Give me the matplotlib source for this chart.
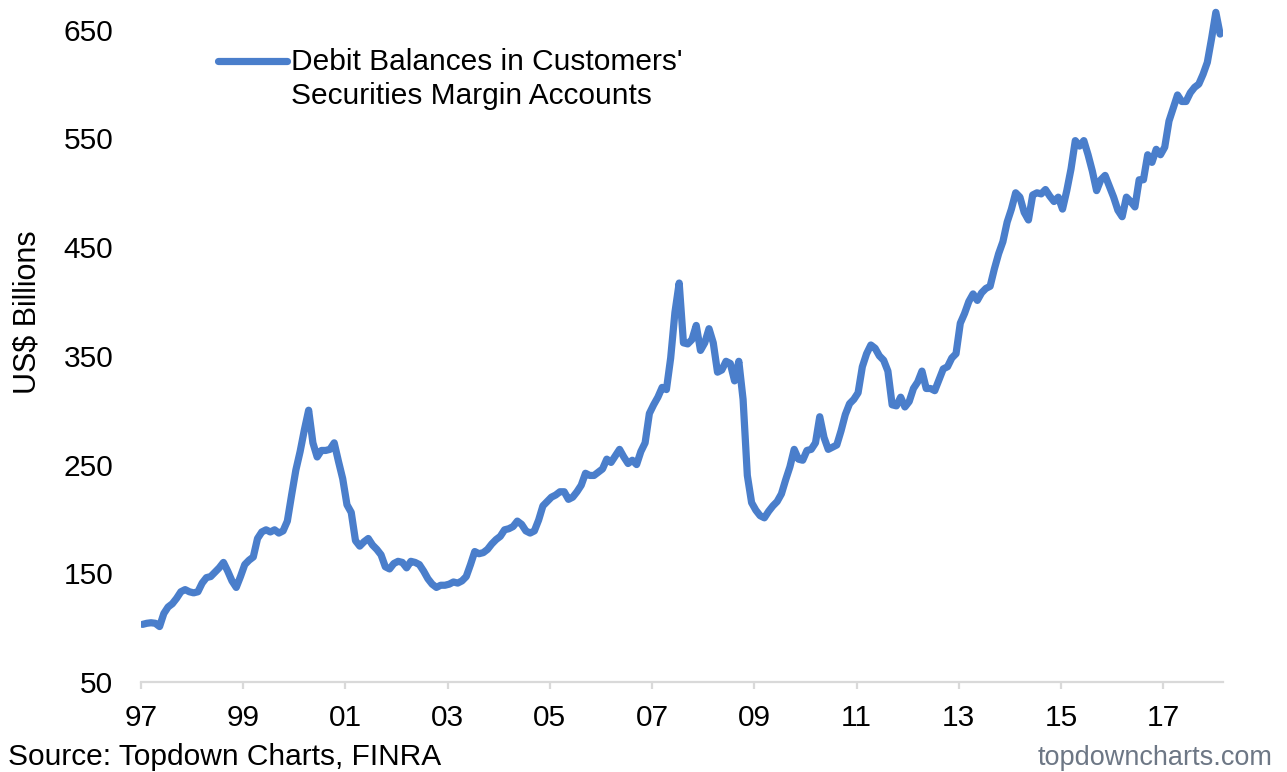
import numpy as np
import matplotlib
matplotlib.use('Agg')
import matplotlib.pyplot as plt
from matplotlib.lines import Line2D

plt.rcParams['font.family'] = ['Liberation Sans', 'DejaVu Sans']

# monthly debit balances, US$ bn, Jan 1997 .. Feb 2018
Y1997 = [103, 104, 104.5, 104, 101, 113, 119, 122, 127, 133, 135, 133]
Y1998 = [132, 133, 141, 146, 147, 151, 155, 160, 152, 143, 137, 147]
Y1999 = [158, 162, 165, 182, 188, 190, 188, 190, 187, 189, 198, 222]
Y2000 = [245, 262, 282, 300, 270, 257, 263, 263, 264, 270, 253, 237]
Y2001 = [213, 206, 180, 175, 179, 182, 176, 172, 167, 156, 154, 159]
Y2002 = [161, 160, 155, 161, 160, 158, 152, 145, 140, 137, 139, 139]
Y2003 = [140, 142, 141, 143, 147, 158, 170, 168, 169, 172, 177, 181]
Y2004 = [184, 190, 191, 193, 198, 195, 189, 187, 189, 199, 212, 216]
Y2005 = [220, 222, 225, 225, 218, 220, 225, 231, 242, 240, 240, 243]
Y2006 = [246, 255, 252, 258, 264, 257, 251, 254, 250, 262, 270, 297]
Y2007 = [305, 312, 321, 319, 348, 390, 417, 362, 361, 365, 378, 355]
Y2008 = [362, 375, 362, 335, 337, 345, 343, 327, 345, 310, 240, 215]
Y2009 = [208, 203, 201, 207, 212, 216, 223, 236, 248, 264, 255, 254]
Y2010 = [263, 264, 270, 294, 275, 264, 266, 268, 281, 296, 306, 310]
Y2011 = [316, 340, 352, 360, 357, 350, 346, 336, 305, 304, 312, 303]
Y2012 = [308, 320, 326, 336, 320, 320, 318, 328, 338, 340, 348, 352]
Y2013 = [380, 389, 400, 407, 401, 408, 412, 414, 430, 444, 455, 473]
Y2014 = [485, 500, 496, 482, 475, 498, 500, 499, 503, 497, 492, 496]
Y2015 = [485, 502, 522, 548, 543, 548, 535, 520, 502, 512, 516, 506]
Y2016 = [496, 484, 478, 496, 492, 487, 512, 512, 535, 528, 540, 535]
Y2017 = [542, 566, 578, 590, 584, 584, 592, 597, 600, 609, 620, 642]
Y2018 = [666, 646]

TICK_YEARS = list(range(1997, 2018, 2))
TICK_LABELS = ['97', '99', '01', '03', '05', '07', '09', '11', '13', '15', '17']
Y_TICKS = [50, 150, 250, 350, 450, 550, 650]

values = np.array(Y1997 + Y1998 + Y1999 + Y2000 + Y2001 + Y2002 + Y2003 + Y2004
                  + Y2005 + Y2006 + Y2007 + Y2008 + Y2009 + Y2010 + Y2011
                  + Y2012 + Y2013 + Y2014 + Y2015 + Y2016 + Y2017 + Y2018)
dates = 1997 + 0.03 + np.arange(len(values)) / 12.0

BLUE = '#4a7ecb'
W, H = 1287, 772

fig = plt.figure(figsize=(W / 100, H / 100), dpi=100)
ax = fig.add_axes([141 / W, 1 - 682 / H, 1082 / W, 674 / H])

ax.plot(dates, values, color=BLUE, lw=5.2, solid_capstyle='round', solid_joinstyle='round')

ax.set_xlim(1997, 2018.17)
ax.set_ylim(50, 670)
ax.set_xticks(TICK_YEARS)
ax.set_xticklabels(TICK_LABELS)
ax.set_yticks(Y_TICKS)

for s in ['top', 'right', 'left']:
    ax.spines[s].set_visible(False)
ax.spines['bottom'].set_color('#d9d9d9')
ax.spines['bottom'].set_linewidth(1.6)
ax.tick_params(axis='x', length=5, width=1.6, color='#d9d9d9', pad=11, labelsize=21.5)
ax.tick_params(axis='y', length=0, pad=20, labelsize=21.5)

# legend drawn by hand so the handle sits on the first line
fig.add_artist(Line2D([218 / W, 287 / W], [1 - 61 / H, 1 - 61 / H], color=BLUE, lw=5.2,
                      solid_capstyle='round'))
fig.text(291 / W, 1 - 79 / H, "Debit Balances in Customers'\nSecurities Margin Accounts",
         fontsize=21.5, va='center', ha='left', linespacing=1.3)

fig.text(28 / W, 1 - 312 / H, 'US$ Billions', rotation=90, fontsize=22, va='center', ha='center')
fig.text(8 / W, 1 - 765 / H, 'Source: Topdown Charts, FINRA', fontsize=21.5, va='baseline', ha='left')
fig.text(1273 / W, 1 - 765 / H, 'topdowncharts.com', fontsize=19.5, va='baseline', ha='right',
         color='#6d7785')

fig.savefig('out.png', dpi=100, facecolor='white')
